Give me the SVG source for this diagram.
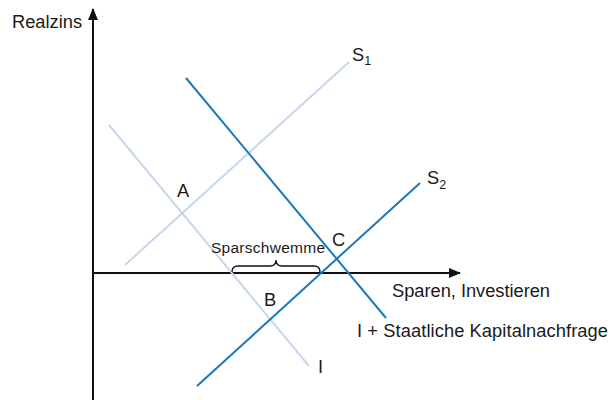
<svg xmlns="http://www.w3.org/2000/svg" width="614" height="400" viewBox="0 0 614 400">
<style>
text{font-family:"Liberation Sans",Arial,sans-serif;fill:#1a1a1a;font-size:18.3px}
.axis{stroke:#111;stroke-width:2;fill:none}
.light{stroke:#c6d6ef;stroke-width:2;fill:none}
.dark{stroke:#1a78bd;stroke-width:2;fill:none}
.sub{font-size:12.5px}
</style>
<defs>
<marker id="ah" viewBox="0 0 12 10" refX="11" refY="5" markerWidth="12" markerHeight="10" markerUnits="userSpaceOnUse" orient="auto">
<path d="M0,0 L12,5 L0,10 Z" fill="#111"/>
</marker>
</defs>
<rect width="614" height="400" fill="#fff"/>
<g id="axes">
<line class="axis" x1="93" y1="400" x2="93" y2="9" marker-end="url(#ah)"/>
<line class="axis" x1="92" y1="273" x2="460" y2="273" marker-end="url(#ah)"/>
<text x="12" y="28">Realzins</text>
<text x="392" y="297" textLength="158">Sparen, Investieren</text>
</g>
<g id="connectors">
<line id="s1" class="light" x1="125" y1="265" x2="349" y2="62"/>
<line id="i" class="light" x1="109" y1="125" x2="309" y2="366"/>
<line id="ik" class="dark" x1="186" y1="78" x2="386" y2="318"/>
<line id="s2" class="dark" x1="197" y1="386" x2="420" y2="183"/>
</g>
<g id="label-s1"><text x="352" y="61">S<tspan class="sub" dy="4">1</tspan></text></g>
<g id="label-s2"><text x="427" y="184">S<tspan class="sub" dy="5">2</tspan></text></g>
<g id="label-i"><text x="318" y="373">I</text></g>
<g id="label-ik"><text x="357" y="337" textLength="251">I + Staatliche Kapitalnachfrage</text></g>
<g id="point-a"><text x="177" y="197">A</text></g>
<g id="point-b"><text x="264" y="306">B</text></g>
<g id="point-c"><text x="332" y="246">C</text></g>
<g id="sparschwemme">
<text x="211" y="253" style="font-size:15.5px" textLength="114">Sparschwemme</text>
<path d="M232,272 Q232,266 238,266 L270,266 Q276,266 276,260 Q276,266 282,266 L314,266 Q320,266 320,272" fill="none" stroke="#111" stroke-width="1.3"/>
</g>
</svg>
